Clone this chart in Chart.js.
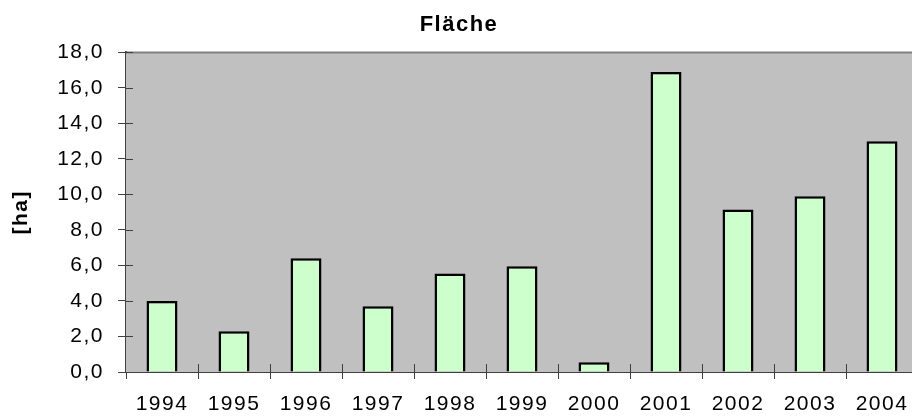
<!DOCTYPE html>
<html>
<head>
<meta charset="utf-8">
<script src="https://cdn.jsdelivr.net/npm/chart.js@4"></script>
<style>
  html, body { margin: 0; padding: 0; background: #fff; overflow: hidden; }
  #wrap { width: 930px; height: 417px; position: relative; }
</style>
</head>
<body>
<div id="wrap"><canvas id="chart"></canvas></div>
<script>
// ── Data ──────────────────────────────────────────────────────────────────────
const years = ["1994", "1995", "1996", "1997", "1998", "1999", "2000", "2001", "2002", "2003", "2004"];
const flaeche = [4.0, 2.3, 6.4, 3.7, 5.55, 5.95, 0.55, 16.9, 9.15, 9.9, 13.0];
const yMin = 0;
const yMax = 18;
const yStep = 2;

const AXIS = "#404040";
const FONT = "'Liberation Sans', Arial, sans-serif";

// letter spacing gets reset whenever the canvas is resized, so set it each pass
const spacing = {
    id: "spacing",
    beforeUpdate(chart) { chart.ctx.letterSpacing = "1.5px"; },
    beforeDraw(chart) { chart.ctx.letterSpacing = "1.5px"; },
};

// grey plot area + thin top border
const plotArea = {
    id: "plotArea",
    beforeDatasetsDraw(chart) {
        const { ctx, chartArea: a } = chart;
        ctx.save();
        ctx.fillStyle = "#c0c0c0";
        ctx.fillRect(a.left, a.top, a.right - a.left, a.bottom - a.top);
        ctx.strokeStyle = "#808080";
        ctx.lineWidth = 2;
        ctx.beginPath();
        ctx.moveTo(a.left, a.top);
        ctx.lineTo(a.right, a.top);
        ctx.stroke();
        ctx.restore();
    },
    // tick marks also poke a little into the plot area
    afterDraw(chart) {
        const { ctx, chartArea: a } = chart;
        const x = chart.scales.x, y = chart.scales.y;
        ctx.save();
        ctx.strokeStyle = AXIS;
        ctx.lineWidth = 1;
        ctx.beginPath();
        y.ticks.forEach((t, i) => {
            const py = Math.round(y.getPixelForTick(i)) + 0.5;
            ctx.moveTo(a.left, py);
            ctx.lineTo(a.left + 7, py);
        });
        for (let i = 1; i < years.length; i++) {
            const px = Math.round((x.getPixelForTick(i - 1) + x.getPixelForTick(i)) / 2) + 0.5;
            ctx.moveTo(px, a.bottom);
            ctx.lineTo(px, a.bottom - 8);
        }
        ctx.stroke();
        ctx.restore();
    },
};

new Chart(document.getElementById("chart"), {
    type: "bar",
    data: {
        labels: years,
        datasets: [{
            label: "Fläche",
            data: flaeche,
            backgroundColor: "#ccffcc",
            borderColor: "#000",
            borderWidth: 2.5,
            barPercentage: 0.43,
            categoryPercentage: 1,
        }]
    },
    options: {
        responsive: true,
        maintainAspectRatio: false,
        animation: false,
        layout: { padding: { left: 0, right: 12, top: 0, bottom: 0 } },
        plugins: {
            legend: { display: false },
            tooltip: { enabled: false },
            title: {
                display: true,
                text: "Fläche",
                color: "#000",
                font: { family: FONT, size: 22, weight: "bold" },
                padding: { top: 12, bottom: 14 },
            },
        },
        scales: {
            x: {
                z: 1,
                afterFit(s) { s.height = 45; },
                grid: { offset: true, drawOnChartArea: false, tickLength: 7, color: AXIS },
                border: { color: AXIS, width: 2 },
                ticks: {
                    color: "#000",
                    padding: 13,
                    maxRotation: 0,
                    font: { family: FONT, size: 21 },
                },
            },
            y: {
                z: 1,
                min: yMin,
                max: yMax,
                afterFit(s) { s.width = 126; },
                grid: { drawOnChartArea: false, tickLength: 8, color: AXIS },
                border: { color: AXIS, width: 2 },
                title: {
                    display: true,
                    text: "[ha]",
                    color: "#000",
                    font: { family: FONT, size: 21, weight: "bold" },
                    padding: { top: 9, bottom: 0 },
                },
                ticks: {
                    stepSize: yStep,
                    color: "#000",
                    padding: 14,
                    font: { family: FONT, size: 21 },
                    callback: v => v.toFixed(1).replace(".", ","),
                },
            },
        },
    },
    plugins: [spacing, plotArea],
});
</script>
</body>
</html>
